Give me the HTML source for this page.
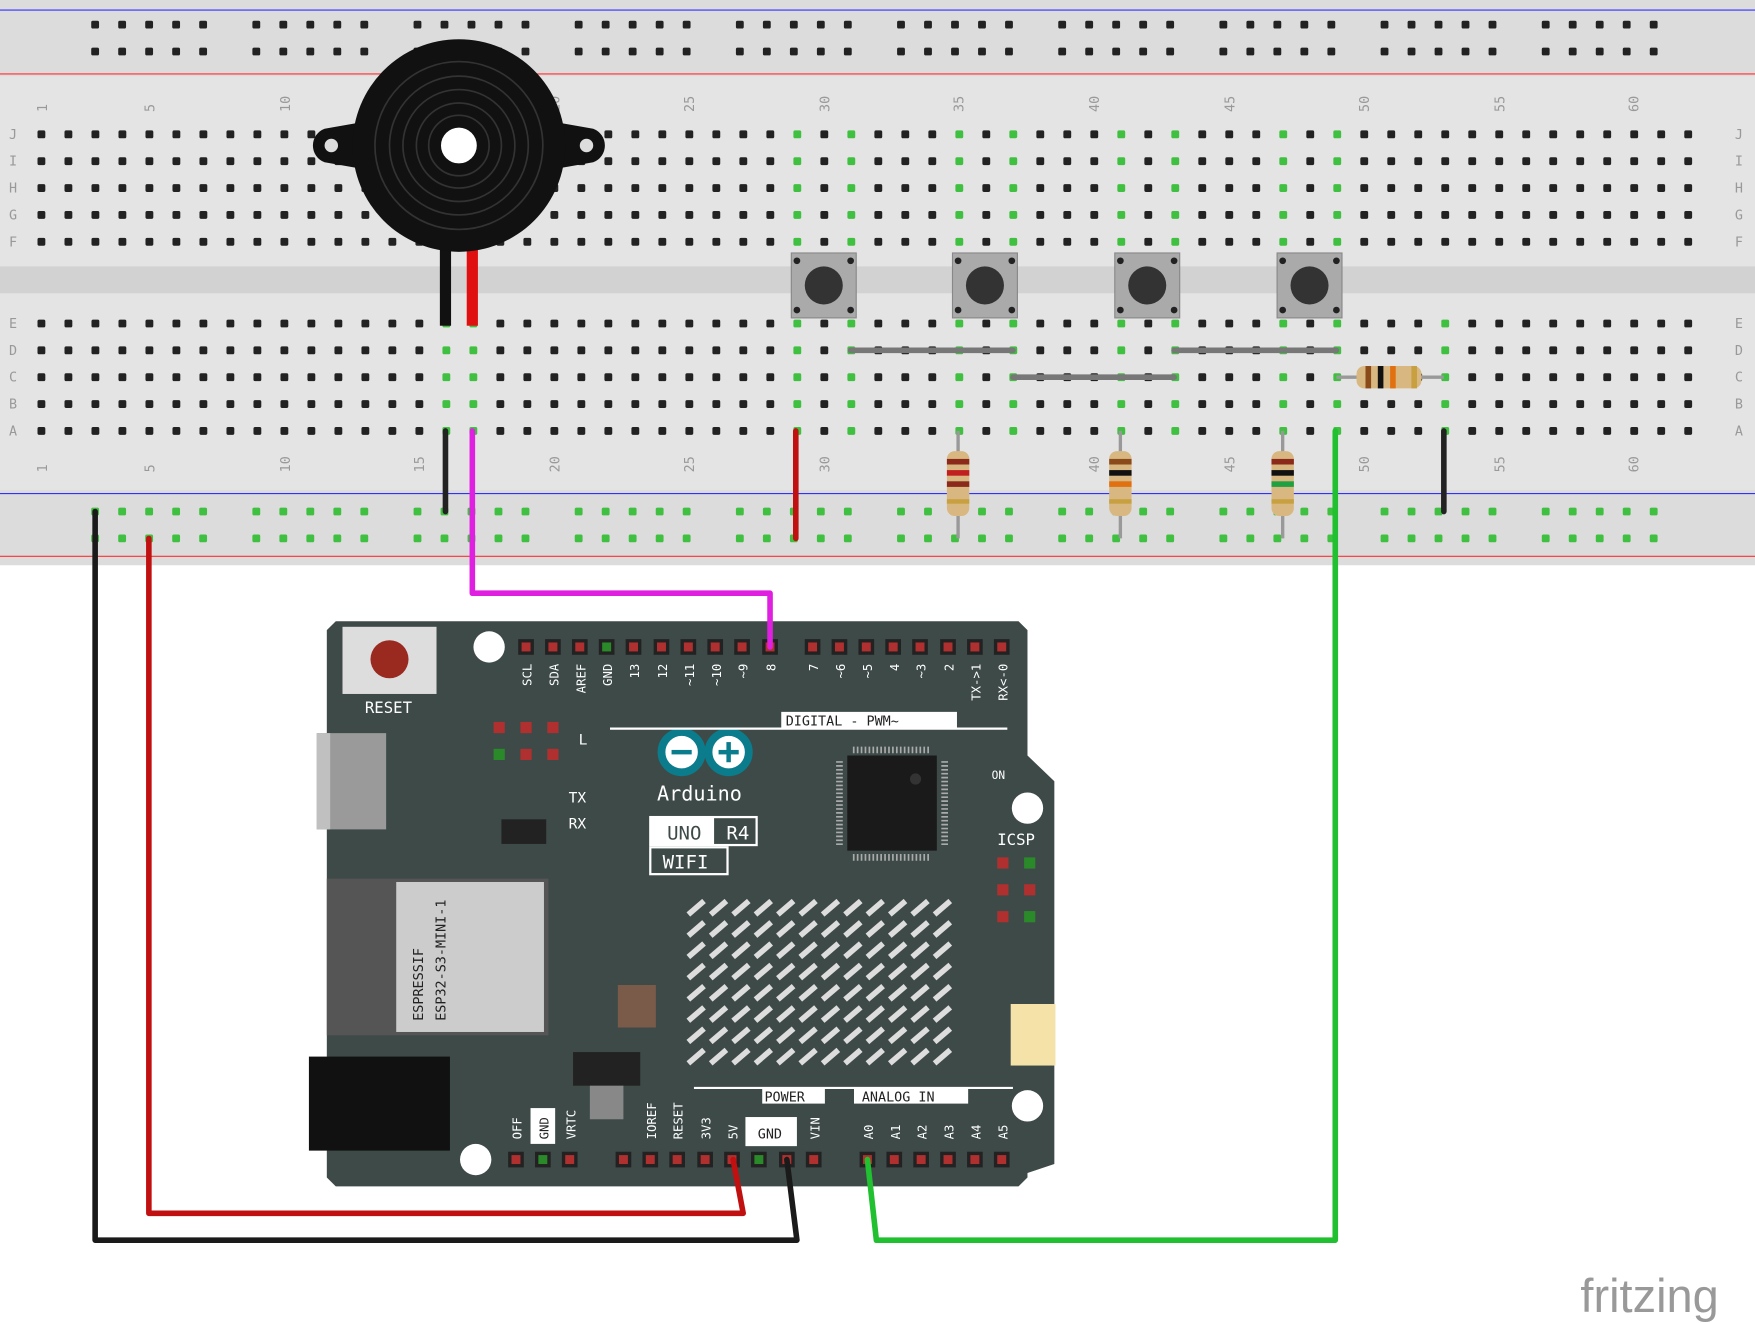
<!DOCTYPE html>
<html><head><meta charset="utf-8"><style>
html,body{margin:0;padding:0;background:#fff;width:1755px;height:1323px;overflow:hidden}
svg{display:block}
text{font-family:"DejaVu Sans Mono","Liberation Mono",monospace}
</style></head><body>
<svg id="s" width="1755" height="1323" viewBox="0 0 1568 1182" xmlns="http://www.w3.org/2000/svg">
<rect width="1568" height="1182" fill="#fff"/>
<rect x="0" y="0" width="1568" height="505" fill="#dcdcdc"/>
<rect x="0" y="68" width="1568" height="370" fill="#e4e4e4"/>
<rect x="0" y="238" width="1568" height="24" fill="#d2d2d2"/>
<line x1="0" y1="9" x2="1568" y2="9" stroke="#3030ff" stroke-width="1"/>
<line x1="0" y1="66" x2="1568" y2="66" stroke="#ff3030" stroke-width="1"/>
<line x1="0" y1="441" x2="1568" y2="441" stroke="#3030ff" stroke-width="1"/>
<line x1="0" y1="497" x2="1568" y2="497" stroke="#ff3030" stroke-width="1"/>
<g id="holes"></g>
<g font-size="12" fill="#999" font-family="Liberation Sans">
<g transform="translate(42,100) rotate(-90)"><text>1</text></g>
<g transform="translate(138,100) rotate(-90)"><text>5</text></g>
<g transform="translate(259,100) rotate(-90)"><text>10</text></g>
<g transform="translate(379,100) rotate(-90)"><text>15</text></g>
<g transform="translate(500,100) rotate(-90)"><text>20</text></g>
<g transform="translate(620,100) rotate(-90)"><text>25</text></g>
<g transform="translate(741,100) rotate(-90)"><text>30</text></g>
<g transform="translate(861,100) rotate(-90)"><text>35</text></g>
<g transform="translate(982,100) rotate(-90)"><text>40</text></g>
<g transform="translate(1103,100) rotate(-90)"><text>45</text></g>
<g transform="translate(1223,100) rotate(-90)"><text>50</text></g>
<g transform="translate(1344,100) rotate(-90)"><text>55</text></g>
<g transform="translate(1464,100) rotate(-90)"><text>60</text></g>
<g transform="translate(42,422) rotate(-90)"><text>1</text></g>
<g transform="translate(138,422) rotate(-90)"><text>5</text></g>
<g transform="translate(259,422) rotate(-90)"><text>10</text></g>
<g transform="translate(379,422) rotate(-90)"><text>15</text></g>
<g transform="translate(500,422) rotate(-90)"><text>20</text></g>
<g transform="translate(620,422) rotate(-90)"><text>25</text></g>
<g transform="translate(741,422) rotate(-90)"><text>30</text></g>
<g transform="translate(861,422) rotate(-90)"><text>35</text></g>
<g transform="translate(982,422) rotate(-90)"><text>40</text></g>
<g transform="translate(1103,422) rotate(-90)"><text>45</text></g>
<g transform="translate(1223,422) rotate(-90)"><text>50</text></g>
<g transform="translate(1344,422) rotate(-90)"><text>55</text></g>
<g transform="translate(1464,422) rotate(-90)"><text>60</text></g>
<text x="8" y="124">J</text><text x="8" y="148">I</text><text x="8" y="172">H</text><text x="8" y="196">G</text><text x="8" y="220">F</text>
<text x="8" y="293">E</text><text x="8" y="317">D</text><text x="8" y="341">C</text><text x="8" y="365">B</text><text x="8" y="389">A</text>
<text x="1550" y="124">J</text><text x="1550" y="148">I</text><text x="1550" y="172">H</text><text x="1550" y="196">G</text><text x="1550" y="220">F</text>
<text x="1550" y="293">E</text><text x="1550" y="317">D</text><text x="1550" y="341">C</text><text x="1550" y="365">B</text><text x="1550" y="389">A</text>
</g>
<path d="M290,115 L330,108 L330,152 L290,145 A16,16 0 0 1 290,115Z" fill="#111"/>
<path d="M530,115 L490,108 L490,152 L530,145 A16,16 0 0 0 530,115Z" fill="#111"/>
<circle cx="296" cy="130" r="6" fill="#ddd"/><circle cx="524" cy="130" r="6" fill="#ddd"/>
<rect x="393" y="215" width="10" height="76" fill="#111"/>
<rect x="417" y="215" width="10" height="76" fill="#e01010"/>
<circle cx="410" cy="130" r="95" fill="#111"/>
<g fill="none" stroke="#333" stroke-width="1.5"><circle cx="410" cy="130" r="75"/><circle cx="410" cy="130" r="62"/><circle cx="410" cy="130" r="50"/><circle cx="410" cy="130" r="38"/><circle cx="410" cy="130" r="27"/></g>
<circle cx="410" cy="130" r="16" fill="#fff"/>
<g id="btns"></g>
<g stroke-linecap="round">
<line x1="760" y1="313" x2="905" y2="313" stroke="#777" stroke-width="5"/>
<line x1="1049" y1="313" x2="1194" y2="313" stroke="#777" stroke-width="5"/>
<line x1="905" y1="337" x2="1049" y2="337" stroke="#777" stroke-width="5"/>
<line x1="398" y1="385" x2="398" y2="457" stroke="#222" stroke-width="5"/>
<line x1="711" y1="385" x2="711" y2="481" stroke="#c01010" stroke-width="5"/>
<line x1="1290" y1="385" x2="1290" y2="457" stroke="#222" stroke-width="5"/>
</g>
<g id="res"></g>
<path d="M300,555 L910,555 L918,563 L918,675 L942,698 L942,1040 L918,1048 L918,1052 L910,1060 L300,1060 L292,1052 L292,563Z" fill="#3d4a48"/>
<rect x="306" y="560" width="84" height="60" fill="#ddd"/><circle cx="348" cy="589" r="17" fill="#9a2a20"/>
<text x="326" y="637" font-size="14" fill="#fff">RESET</text>
<circle cx="437" cy="578" r="14" fill="#fff"/><circle cx="918" cy="722" r="14" fill="#fff"/><circle cx="918" cy="988" r="14" fill="#fff"/><circle cx="425" cy="1036" r="14" fill="#fff"/>
<rect x="283" y="655" width="62" height="86" fill="#9a9a9a"/><rect x="283" y="655" width="12" height="86" fill="#c0c0c0"/>
<rect x="292" y="785" width="198" height="140" fill="#555"/><rect x="354" y="788" width="132" height="134" fill="#ccc"/>
<g transform="translate(378,912) rotate(-90)" font-size="12" fill="#222"><text>ESPRESSIF</text><text y="20">ESP32-S3-MINI-1</text></g>
<rect x="276" y="944" width="126" height="84" fill="#111"/>
<rect x="757" y="675" width="80" height="85" fill="#1a1a1a"/>
<g stroke="#aaa"><path d="M762,670 h70 M762,766 h70 M750,680 v75 M844,680 v75" stroke-dasharray="1.5 2" stroke-width="6"/></g>
<circle cx="818" cy="696" r="5" fill="#333"/>
<g id="matrix"></g>
<circle cx="609" cy="672" r="18" fill="#fff" stroke="#0a7c8c" stroke-width="7"/><circle cx="651" cy="672" r="18" fill="#fff" stroke="#0a7c8c" stroke-width="7"/>
<rect x="600" y="670" width="18" height="4" fill="#0a7c8c"/><rect x="642" y="670" width="18" height="4" fill="#0a7c8c"/><rect x="649" y="663" width="4" height="18" fill="#0a7c8c"/>
<text x="587" y="715" font-size="18" fill="#fff">Arduino</text>
<rect x="581" y="730" width="95" height="25" fill="none" stroke="#fff" stroke-width="2"/><rect x="581" y="730" width="57" height="25" fill="#fff"/>
<text x="596" y="750" font-size="17" fill="#3d4a48">UNO</text><text x="649" y="750" font-size="17" fill="#fff">R4</text>
<rect x="581" y="757" width="69" height="24" fill="none" stroke="#fff" stroke-width="2"/><text x="592" y="776" font-size="17" fill="#fff">WIFI</text>
<line x1="545" y1="651" x2="900" y2="651" stroke="#fff" stroke-width="2"/>
<rect x="698" y="636" width="157" height="14" fill="#fff"/><text x="702" y="648" font-size="12" fill="#222">DIGITAL - PWM~</text>
<line x1="620" y1="972" x2="905" y2="972" stroke="#fff" stroke-width="2"/>
<rect x="681" y="972" width="56" height="14" fill="#fff"/><text x="683" y="984" font-size="12" fill="#222">POWER</text>
<rect x="763" y="972" width="102" height="14" fill="#fff"/><text x="770" y="984" font-size="12" fill="#222">ANALOG IN</text>
<text x="891" y="755" font-size="14" fill="#fff">ICSP</text><text x="886" y="696" font-size="10" fill="#fff">ON</text>
<text x="508" y="717" font-size="13" fill="#fff">TX</text><text x="508" y="740" font-size="13" fill="#fff">RX</text><text x="517" y="665" font-size="13" fill="#fff">L</text>
<rect x="666" y="998" width="46" height="26" fill="#fff"/><text x="677" y="1017" font-size="12" fill="#222">GND</text>
<rect x="474" y="990" width="22" height="32" fill="#fff"/>
<rect x="903" y="897" width="40" height="55" fill="#f5e2a8"/>
<rect x="552" y="880" width="34" height="38" fill="#7a5a48"/>
<rect x="512" y="940" width="60" height="30" fill="#222"/><rect x="527" y="970" width="30" height="30" fill="#888"/>
<rect x="448" y="732" width="40" height="22" fill="#222"/>
<g id="pins"></g>
<g font-size="11" fill="#fff" text-anchor="end">
<text transform="translate(475,593) rotate(-90)">SCL</text>
<text transform="translate(499,593) rotate(-90)">SDA</text>
<text transform="translate(523,593) rotate(-90)">AREF</text>
<text transform="translate(547,593) rotate(-90)">GND</text>
<text transform="translate(571,593) rotate(-90)">13</text>
<text transform="translate(596,593) rotate(-90)">12</text>
<text transform="translate(620,593) rotate(-90)">~11</text>
<text transform="translate(644,593) rotate(-90)">~10</text>
<text transform="translate(668,593) rotate(-90)">~9</text>
<text transform="translate(693,593) rotate(-90)">8</text>
<text transform="translate(731,593) rotate(-90)">7</text>
<text transform="translate(755,593) rotate(-90)">~6</text>
<text transform="translate(779,593) rotate(-90)">~5</text>
<text transform="translate(803,593) rotate(-90)">4</text>
<text transform="translate(827,593) rotate(-90)">~3</text>
<text transform="translate(852,593) rotate(-90)">2</text>
<text transform="translate(876,593) rotate(-90)">TX-&gt;1</text>
<text transform="translate(900,593) rotate(-90)">RX&lt;-0</text>
</g>
<g font-size="11" fill="#fff">
<text transform="translate(466,1018) rotate(-90)">OFF</text>
<text transform="translate(490,1018) rotate(-90)" fill="#222">GND</text>
<text transform="translate(514,1018) rotate(-90)">VRTC</text>
<text transform="translate(586,1018) rotate(-90)">IOREF</text>
<text transform="translate(610,1018) rotate(-90)">RESET</text>
<text transform="translate(635,1018) rotate(-90)">3V3</text>
<text transform="translate(659,1018) rotate(-90)">5V</text>
<text transform="translate(732,1018) rotate(-90)">VIN</text>
<text transform="translate(780,1018) rotate(-90)">A0</text>
<text transform="translate(804,1018) rotate(-90)">A1</text>
<text transform="translate(828,1018) rotate(-90)">A2</text>
<text transform="translate(852,1018) rotate(-90)">A3</text>
<text transform="translate(876,1018) rotate(-90)">A4</text>
<text transform="translate(900,1018) rotate(-90)">A5</text>
</g>
<g fill="none" stroke-width="5" stroke-linejoin="round" stroke-linecap="round">
<polyline points="85,457 85,1108 712,1108 703,1036" stroke="#1a1a1a"/>
<polyline points="133,481 133,1084 664,1084 655,1036" stroke="#c01010"/>
<polyline points="1193,385 1193,1108 783,1108 775,1036" stroke="#20c030"/>
<polyline points="422,385 422,530 688,530 688,578" stroke="#e020e0"/>
</g>
<text x="1412" y="1172" font-size="42" fill="#999" style="font-family:'Liberation Sans',sans-serif">fritzing</text>
</svg>
<script>
var NS="http://www.w3.org/2000/svg";
function el(p,t,a){var e=document.createElementNS(NS,t);for(var k in a)e.setAttribute(k,a[k]);document.getElementById(p).appendChild(e);return e;}
var P=24.12,X0=37;
function cx(c){return X0+(c-1)*P;}
var topRows=[120,144,168,192,216],botRows=[289,313,337,361,385];
for(var c=1;c<=63;c++){
 var x=cx(c); if(x>1530)break;
 var gTop=[29,31,35,37,41,43,47,49].indexOf(c)>=0;
 var gBot=[16,17,29,31,35,37,41,43,47,49,53].indexOf(c)>=0;
 topRows.forEach(function(y){el("holes","rect",{x:x-3.5,y:y-3.5,width:7,height:7,rx:1.5,fill:gTop?"#40c040":"#222"});});
 botRows.forEach(function(y){el("holes","rect",{x:x-3.5,y:y-3.5,width:7,height:7,rx:1.5,fill:gBot?"#40c040":"#222"});});
}
for(var g=0;g<10;g++)for(var i=0;i<5;i++){var x=85+g*144+i*P;
 [22,46].forEach(function(y){el("holes","rect",{x:x-3.5,y:y-3.5,width:7,height:7,rx:1.5,fill:"#222"});});
 [457,481].forEach(function(y){el("holes","rect",{x:x-3.5,y:y-3.5,width:7,height:7,rx:1.5,fill:"#40c040"});});}
[736,880,1025,1170].forEach(function(x){
 el("btns","rect",{x:x-29,y:226,width:58,height:58,fill:"#aaa",stroke:"#888"});
 el("btns","circle",{cx:x,cy:255,r:17,fill:"#333"});
 [[-24,-22],[24,-22],[-24,22],[24,22]].forEach(function(d){el("btns","circle",{cx:x+d[0],cy:255+d[1],r:3,fill:"#222"});});
});
[[856,["#8b2a1a","#c02020","#8b2a1a"]],[1001,["#8b4a1a","#111","#e07010"]],[1146,["#8b2a1a","#111","#20a040"]]].forEach(function(r){
 var x=r[0];el("res","line",{x1:x,y1:385,x2:x,y2:481,stroke:"#999","stroke-width":3});
 el("res","rect",{x:x-10,y:403,width:20,height:58,rx:7,fill:"#d8b880"});
 r[1].forEach(function(c,i){el("res","rect",{x:x-10,y:410+i*10,width:20,height:5,fill:c});});
 el("res","rect",{x:x-10,y:446,width:20,height:4,fill:"#c8a040"});
});
el("res","line",{x1:1194,y1:337,x2:1290,y2:337,stroke:"#999","stroke-width":3});
el("res","rect",{x:1212,y:327,width:58,height:20,rx:7,fill:"#d8b880"});
["#8b4a1a","#111","#e07010","#c8a040"].forEach(function(c,i){el("res","rect",{x:1220+i*11+(i==3?8:0),y:327,width:5,height:20,fill:c});});
for(var r=0;r<8;r++)for(var c=0;c<12;c++){var x=615+c*20,y=805+r*19;
 el("matrix","line",{x1:x,y1:y+12,x2:x+14,y2:y,stroke:"#ddd","stroke-width":5});}
var top1=[470,494,518,542,566,591,615,639,663,688],top2=[726,750,774,798,822,847,871,895];
top1.concat(top2).forEach(function(x){el("pins","rect",{x:x-7,y:571,width:14,height:14,fill:"#222"});el("pins","rect",{x:x-4,y:574,width:8,height:8,fill:x==542?"#2a8a2a":"#b03030"});});
[557,581,605,630,654,678,703,727,775,799,823,847,871,895,461,485,509].forEach(function(x){el("pins","rect",{x:x-7,y:1029,width:14,height:14,fill:"#222"});el("pins","rect",{x:x-4,y:1032,width:8,height:8,fill:(x==678||x==485)?"#2a8a2a":"#b03030"});});
[[896,771],[920,771],[896,795],[920,795],[896,819],[920,819],[446,650],[470,650],[494,650],[446,674],[470,674],[494,674]].forEach(function(p){el("pins","rect",{x:p[0]-5,y:p[1]-5,width:10,height:10,fill:(p[0]==920&&p[1]!=795)||(p[0]==446&&p[1]==674)?"#2a8a2a":"#b03030"});});
</script>
</body></html>
